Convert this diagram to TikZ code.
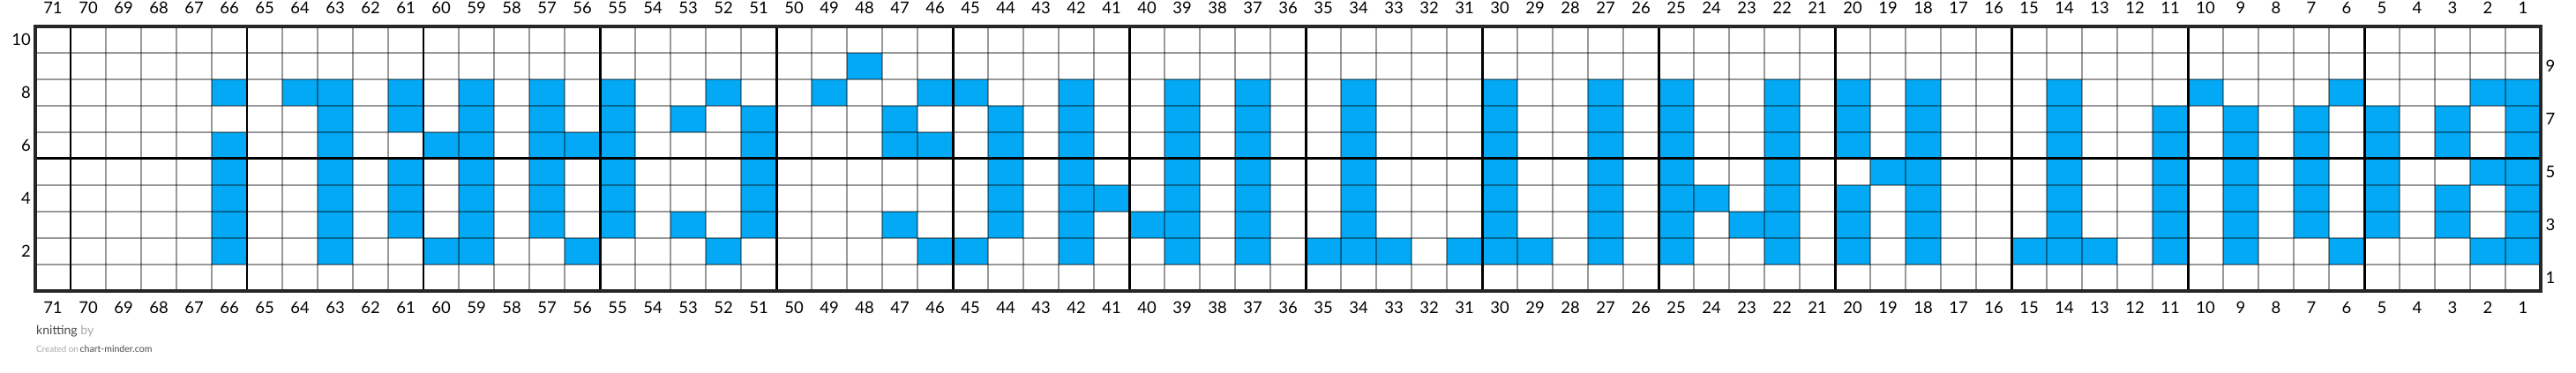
\documentclass[tikz,border=0pt]{standalone}
\usepackage{fontspec}
\setmainfont{Lato}
\usepackage{xcolor}
\usetikzlibrary{positioning}

\definecolor{stitchblue}{HTML}{03A9F4}
\definecolor{creditdark}{HTML}{4A4A4A}
\definecolor{creditlight}{HTML}{A8A8A8}

\begin{document}
\begin{tikzpicture}[
    x=0.8cm, y=0.6cm,
    num label/.style={inner sep=0pt, font=\fontsize{10.5}{12}\selectfont},
    stitch/.style={fill=stitchblue},
    thin rule/.style={draw=black, draw opacity=0.4, line width=0.85pt},
    thick rule/.style={draw=black, line width=1.7pt},
    chart border/.style={draw=black!85, line width=2.3pt},
    credit/.style={inner sep=0pt, anchor=west}
]

    % --- PAGE ---
    \useasboundingbox[fill=white] (-1,-3.1) rectangle (72,11);

    % --- CONTRAST STITCHES (row / columns) ---
    \foreach \r/\cols in {
        2/{66,63,60,59,56,52,46,45,42,39,37,35,34,33,31,30,29,27,25,22,20,18,15,14,13,11,9,6,2,1},
        3/{66,63,61,59,57,55,53,51,47,44,42,40,39,37,34,30,27,25,23,22,20,18,14,11,9,7,5,3,1},
        4/{66,63,61,59,57,55,51,44,42,41,39,37,34,30,27,25,24,22,20,18,14,11,9,7,5,3,1},
        5/{66,63,61,59,57,55,51,44,42,39,37,34,30,27,25,22,19,18,14,11,9,7,5,2,1},
        6/{66,63,60,59,57,56,55,51,47,46,44,42,39,37,34,30,27,25,22,20,18,14,11,9,7,5,3,1},
        7/{63,61,59,57,55,53,51,47,44,42,39,37,34,30,27,25,22,20,18,14,11,9,7,5,3,1},
        8/{66,64,63,61,59,57,55,52,49,46,45,42,39,37,34,30,27,25,22,20,18,14,10,6,2,1},
        9/{48}}
        \foreach \c in \cols
            \fill[stitch] (71-\c,\r-1) rectangle (72-\c,\r);

    % --- GRID ---
    \foreach \x in {1,...,70}
        \draw[thin rule] (\x,0) -- (\x,10);
    \foreach \y in {1,...,9}
        \draw[thin rule] (0,\y) -- (71,\y);

    % every 5 stitches / rows
    \foreach \x in {1,6,...,66}
        \draw[thick rule] (\x,0) -- (\x,10);
    \draw[thick rule] (0,5) -- (71,5);

    \draw[chart border] (0,0) rectangle (71,10);

    % --- STITCH NUMBERS (top and bottom) ---
    \foreach \c in {1,...,71} {
        \node[num label] (top-\c) at (71.5-\c,10.69) {\c};
        \node[num label] (bot-\c) at (71.5-\c,-0.64) {\c};
    }

    % --- ROW NUMBERS (even left, odd right) ---
    \foreach \r in {2,4,...,10}
        \node[num label, anchor=east] (row-\r) at (-0.12,\r-0.5) {\r};
    \foreach \r in {1,3,...,9}
        \node[num label, anchor=west] (row-\r) at (71.13,\r-0.5) {\r};

    % --- CREDIT ---
    \node[credit, font=\fontsize{8}{9}\selectfont] (knit) at (0.02,-1.53)
        {\textcolor{creditdark}{knitting} \textcolor{creditlight}{by}};
    \node[credit, below=0.17cm of knit.south west, anchor=north west,
          font=\fontsize{6}{7}\selectfont] (made)
        {\textcolor{creditlight}{\fontsize{5.6}{7}\selectfont Created on}\,\textcolor{creditdark}{chart-minder.com}};

\end{tikzpicture}
\end{document}
